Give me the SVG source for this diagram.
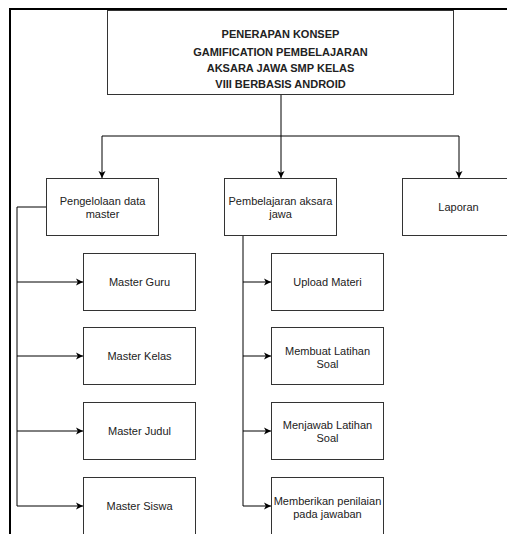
<svg xmlns="http://www.w3.org/2000/svg" width="507" height="534" viewBox="0 0 507 534">
<style>
.box{fill:#fff;stroke:#333;stroke-width:1}
.t{font-family:"Liberation Sans",Arial,sans-serif;font-size:11px;fill:#222;text-anchor:middle}
.b{font-weight:bold}
.c{fill:none;stroke:#000;stroke-width:1}
</style>
<defs>
<marker id="ar" markerUnits="userSpaceOnUse" markerWidth="10" markerHeight="10" viewBox="0 0 10 10" refX="8" refY="5" orient="auto">
<path d="M1,1.5 L8,5 L1,8.5 L2.8,5 Z" fill="#000"/>
</marker>
</defs>
<rect width="507" height="534" fill="#fff"/>
<path d="M10,534 V9 H507" fill="none" stroke="#000" stroke-width="2"/>
<g id="connectors">
<path class="c" d="M281,94 V178" marker-end="url(#ar)"/>
<path class="c" d="M281,136 H102 V178" marker-end="url(#ar)"/>
<path class="c" d="M281,136 H459 V178" marker-end="url(#ar)"/>
<path class="c" d="M46,207 H17 V506 H83" marker-end="url(#ar)"/>
<path class="c" d="M17,282 H83" marker-end="url(#ar)"/>
<path class="c" d="M17,356 H83" marker-end="url(#ar)"/>
<path class="c" d="M17,431 H83" marker-end="url(#ar)"/>
<path class="c" d="M243,235 V506 H271" marker-end="url(#ar)"/>
<path class="c" d="M243,282 H271" marker-end="url(#ar)"/>
<path class="c" d="M243,356 H271" marker-end="url(#ar)"/>
<path class="c" d="M243,431 H271" marker-end="url(#ar)"/>
</g>
<g id="root">
<rect class="box" x="107.5" y="10.5" width="346" height="84"/>
<text class="t b" x="280.5" y="38">PENERAPAN KONSEP</text>
<text class="t b" x="280.5" y="55.5">GAMIFICATION PEMBELAJARAN</text>
<text class="t b" x="280.5" y="72">AKSARA JAWA SMP KELAS</text>
<text class="t b" x="280.5" y="88">VIII BERBASIS ANDROID</text>
</g>
<g id="pengelolaan">
<rect class="box" x="46.5" y="178.5" width="112" height="57"/>
<text class="t" x="102.5" y="205">Pengelolaan data</text>
<text class="t" x="102.5" y="218">master</text>
</g>
<g id="pembelajaran">
<rect class="box" x="224.5" y="178.5" width="112" height="57"/>
<text class="t" x="280.5" y="205">Pembelajaran aksara</text>
<text class="t" x="280.5" y="218">jawa</text>
</g>
<g id="laporan">
<rect class="box" x="402.5" y="178.5" width="112" height="57"/>
<text class="t" x="458.5" y="211">Laporan</text>
</g>
<g id="master-guru">
<rect class="box" x="83.5" y="253.5" width="112" height="57"/>
<text class="t" x="139.5" y="286">Master Guru</text>
</g>
<g id="master-kelas">
<rect class="box" x="83.5" y="327.5" width="112" height="57"/>
<text class="t" x="139.5" y="360">Master Kelas</text>
</g>
<g id="master-judul">
<rect class="box" x="83.5" y="402.5" width="112" height="57"/>
<text class="t" x="139.5" y="435">Master Judul</text>
</g>
<g id="master-siswa">
<rect class="box" x="83.5" y="477.5" width="112" height="57"/>
<text class="t" x="139.5" y="510">Master Siswa</text>
</g>
<g id="upload-materi">
<rect class="box" x="271.5" y="253.5" width="112" height="57"/>
<text class="t" x="327.5" y="286">Upload Materi</text>
</g>
<g id="membuat-latihan">
<rect class="box" x="271.5" y="327.5" width="112" height="57"/>
<text class="t" x="327.5" y="355">Membuat Latihan</text>
<text class="t" x="327.5" y="368">Soal</text>
</g>
<g id="menjawab-latihan">
<rect class="box" x="271.5" y="402.5" width="112" height="57"/>
<text class="t" x="327.5" y="429">Menjawab Latihan</text>
<text class="t" x="327.5" y="442">Soal</text>
</g>
<g id="memberikan-penilaian">
<rect class="box" x="271.5" y="477.5" width="112" height="57"/>
<text class="t" x="327.5" y="505">Memberikan penilaian</text>
<text class="t" x="327.5" y="518">pada jawaban</text>
</g>
</svg>
